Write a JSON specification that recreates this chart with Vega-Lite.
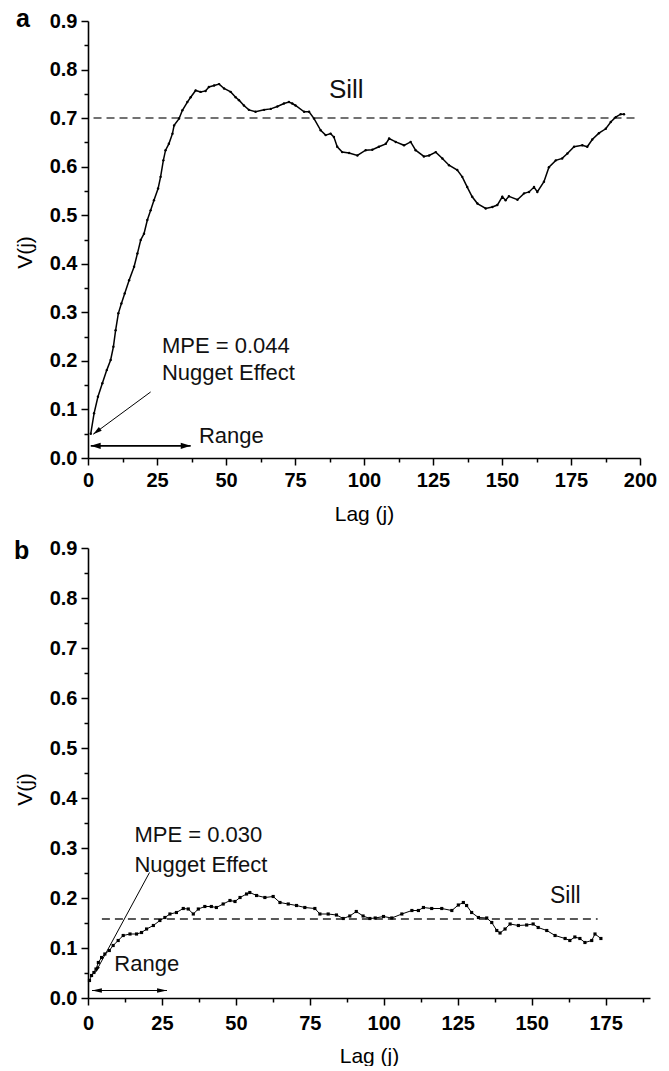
{
  "$schema": "https://vega.github.io/schema/vega-lite/v6.json",
  "padding": {"left": 14, "top": 7, "right": 5, "bottom": 0},
  "spacing": 14,
  "config": {
    "font": "Liberation Sans",
    "view": {"stroke": null},
    "axis": {
      "grid": false,
      "domainColor": "black",
      "domainWidth": 1.6,
      "tickColor": "black",
      "tickWidth": 1.5,
      "labelFont": "Liberation Sans",
      "labelFontWeight": "bold",
      "labelFontSize": 20,
      "labelColor": "black",
      "titleFont": "Liberation Sans",
      "titleFontWeight": "normal",
      "titleFontSize": 21,
      "titleColor": "black",
      "labelOverlap": false,
      "labelFlush": false
    },
    "text": {"font": "Liberation Sans", "color": "#111"}
  },
  "datasets": {
    "curveA": [
      {"lag": 1, "v": 0.050}, {"lag": 2.2, "v": 0.092}, {"lag": 3.6, "v": 0.126}, {"lag": 5.2, "v": 0.154},
      {"lag": 6.8, "v": 0.181}, {"lag": 8.2, "v": 0.202}, {"lag": 9.2, "v": 0.229}, {"lag": 10.0, "v": 0.263},
      {"lag": 11.0, "v": 0.298}, {"lag": 12.1, "v": 0.318}, {"lag": 13.3, "v": 0.339}, {"lag": 14.9, "v": 0.366},
      {"lag": 16.7, "v": 0.394}, {"lag": 17.9, "v": 0.421}, {"lag": 19.1, "v": 0.449}, {"lag": 20.3, "v": 0.462},
      {"lag": 21.5, "v": 0.490}, {"lag": 22.7, "v": 0.510}, {"lag": 23.9, "v": 0.531}, {"lag": 25.4, "v": 0.555},
      {"lag": 26.3, "v": 0.579}, {"lag": 27.3, "v": 0.613}, {"lag": 28.1, "v": 0.634}, {"lag": 29.3, "v": 0.647},
      {"lag": 30.6, "v": 0.668}, {"lag": 31.2, "v": 0.685}, {"lag": 33.0, "v": 0.699}, {"lag": 34.2, "v": 0.716},
      {"lag": 36.0, "v": 0.733}, {"lag": 37.2, "v": 0.743}, {"lag": 39.0, "v": 0.757}, {"lag": 40.8, "v": 0.754},
      {"lag": 42.6, "v": 0.756}, {"lag": 43.8, "v": 0.764}, {"lag": 45.7, "v": 0.767}, {"lag": 47.5, "v": 0.770},
      {"lag": 49.3, "v": 0.761}, {"lag": 51.7, "v": 0.754}, {"lag": 53.5, "v": 0.743}, {"lag": 54.7, "v": 0.737},
      {"lag": 56.5, "v": 0.726}, {"lag": 58.3, "v": 0.717}, {"lag": 60.7, "v": 0.713}, {"lag": 63.8, "v": 0.717},
      {"lag": 66.2, "v": 0.719}, {"lag": 68.6, "v": 0.724}, {"lag": 71.0, "v": 0.730}, {"lag": 72.8, "v": 0.733},
      {"lag": 74.0, "v": 0.730}, {"lag": 75.2, "v": 0.726}, {"lag": 78.3, "v": 0.713}, {"lag": 80.1, "v": 0.713},
      {"lag": 81.9, "v": 0.699}, {"lag": 84.3, "v": 0.675}, {"lag": 86.1, "v": 0.665}, {"lag": 87.9, "v": 0.668},
      {"lag": 89.1, "v": 0.661}, {"lag": 90.3, "v": 0.641}, {"lag": 92.1, "v": 0.630}, {"lag": 94.6, "v": 0.628},
      {"lag": 97.6, "v": 0.623}, {"lag": 100.6, "v": 0.634}, {"lag": 103.0, "v": 0.635}, {"lag": 105.4, "v": 0.641},
      {"lag": 107.9, "v": 0.647}, {"lag": 109.1, "v": 0.658}, {"lag": 111.5, "v": 0.651}, {"lag": 114.5, "v": 0.644},
      {"lag": 116.9, "v": 0.651}, {"lag": 118.7, "v": 0.634}, {"lag": 121.7, "v": 0.621}, {"lag": 123.6, "v": 0.623},
      {"lag": 126.0, "v": 0.630}, {"lag": 128.4, "v": 0.617}, {"lag": 130.8, "v": 0.603}, {"lag": 133.8, "v": 0.593},
      {"lag": 135.6, "v": 0.579}, {"lag": 137.4, "v": 0.558}, {"lag": 139.2, "v": 0.538}, {"lag": 141.1, "v": 0.524},
      {"lag": 144.1, "v": 0.514}, {"lag": 146.5, "v": 0.517}, {"lag": 148.3, "v": 0.521}, {"lag": 150.1, "v": 0.538},
      {"lag": 151.3, "v": 0.531}, {"lag": 152.5, "v": 0.539}, {"lag": 155.6, "v": 0.532}, {"lag": 158.0, "v": 0.545},
      {"lag": 159.8, "v": 0.548}, {"lag": 161.6, "v": 0.558}, {"lag": 162.8, "v": 0.548}, {"lag": 165.2, "v": 0.569},
      {"lag": 167.0, "v": 0.599}, {"lag": 169.5, "v": 0.613}, {"lag": 171.8, "v": 0.617}, {"lag": 173.7, "v": 0.627},
      {"lag": 176.1, "v": 0.641}, {"lag": 179.1, "v": 0.644}, {"lag": 180.9, "v": 0.641}, {"lag": 182.7, "v": 0.656},
      {"lag": 185.1, "v": 0.669}, {"lag": 187.6, "v": 0.678}, {"lag": 189.4, "v": 0.692}, {"lag": 191.2, "v": 0.702},
      {"lag": 193.0, "v": 0.708}, {"lag": 194.2, "v": 0.708}
    ],
    "curveB": [
      {"lag": 0.5, "v": 0.035}, {"lag": 1.2, "v": 0.045}, {"lag": 2.0, "v": 0.051}, {"lag": 2.7, "v": 0.058},
      {"lag": 3.5, "v": 0.071}, {"lag": 4.6, "v": 0.081}, {"lag": 5.7, "v": 0.088}, {"lag": 7.2, "v": 0.095},
      {"lag": 8.5, "v": 0.105}, {"lag": 10.2, "v": 0.115}, {"lag": 11.9, "v": 0.125}, {"lag": 14.2, "v": 0.128},
      {"lag": 16.4, "v": 0.128}, {"lag": 18.1, "v": 0.131}, {"lag": 19.8, "v": 0.138}, {"lag": 22.1, "v": 0.145},
      {"lag": 24.3, "v": 0.155}, {"lag": 26.0, "v": 0.161}, {"lag": 27.7, "v": 0.168}, {"lag": 29.9, "v": 0.171},
      {"lag": 32.2, "v": 0.179}, {"lag": 33.9, "v": 0.178}, {"lag": 35.6, "v": 0.168}, {"lag": 37.3, "v": 0.178},
      {"lag": 39.5, "v": 0.183}, {"lag": 41.7, "v": 0.183}, {"lag": 43.4, "v": 0.181}, {"lag": 45.7, "v": 0.188},
      {"lag": 48.0, "v": 0.195}, {"lag": 49.7, "v": 0.193}, {"lag": 51.4, "v": 0.201}, {"lag": 53.6, "v": 0.208},
      {"lag": 54.7, "v": 0.211}, {"lag": 57.0, "v": 0.205}, {"lag": 59.8, "v": 0.201}, {"lag": 62.6, "v": 0.203},
      {"lag": 64.9, "v": 0.191}, {"lag": 67.7, "v": 0.188}, {"lag": 70.5, "v": 0.185}, {"lag": 73.3, "v": 0.181},
      {"lag": 76.7, "v": 0.179}, {"lag": 78.4, "v": 0.168}, {"lag": 81.2, "v": 0.168}, {"lag": 84.0, "v": 0.166},
      {"lag": 86.3, "v": 0.159}, {"lag": 88.5, "v": 0.164}, {"lag": 90.7, "v": 0.173}, {"lag": 93.0, "v": 0.164},
      {"lag": 95.3, "v": 0.159}, {"lag": 97.1, "v": 0.160}, {"lag": 99.9, "v": 0.163}, {"lag": 102.7, "v": 0.160},
      {"lag": 106.1, "v": 0.168}, {"lag": 109.5, "v": 0.175}, {"lag": 111.7, "v": 0.175}, {"lag": 113.4, "v": 0.181},
      {"lag": 116.2, "v": 0.179}, {"lag": 119.6, "v": 0.179}, {"lag": 123.0, "v": 0.175}, {"lag": 125.2, "v": 0.186},
      {"lag": 126.9, "v": 0.191}, {"lag": 128.0, "v": 0.185}, {"lag": 129.7, "v": 0.171}, {"lag": 132.0, "v": 0.161},
      {"lag": 134.8, "v": 0.160}, {"lag": 136.5, "v": 0.151}, {"lag": 138.2, "v": 0.135}, {"lag": 139.3, "v": 0.130},
      {"lag": 141.0, "v": 0.138}, {"lag": 142.7, "v": 0.148}, {"lag": 145.5, "v": 0.145}, {"lag": 148.3, "v": 0.146},
      {"lag": 150.5, "v": 0.148}, {"lag": 152.2, "v": 0.141}, {"lag": 155.1, "v": 0.135}, {"lag": 157.9, "v": 0.125},
      {"lag": 161.3, "v": 0.119}, {"lag": 162.9, "v": 0.115}, {"lag": 164.6, "v": 0.122}, {"lag": 166.3, "v": 0.119},
      {"lag": 168.0, "v": 0.111}, {"lag": 170.3, "v": 0.115}, {"lag": 171.4, "v": 0.128}, {"lag": 173.4, "v": 0.119}
    ]
  },
  "vconcat": [
    {
      "width": 552,
      "height": 437,
      "encoding": {
        "x": {
          "field": "lag", "type": "quantitative",
          "scale": {"domain": [0, 200], "nice": false, "zero": false},
          "axis": {
            "title": "Lag (j)",
            "values": [0, 12.5, 25, 37.5, 50, 62.5, 75, 87.5, 100, 112.5, 125, 137.5, 150, 162.5, 175, 187.5, 200],
            "labelExpr": "datum.value % 25 === 0 ? datum.label : ''",
            "tickSize": {"condition": {"test": "datum.value % 25 === 0", "value": 7}, "value": 4},
            "labelPadding": 5,
            "titlePadding": 13
          }
        },
        "y": {
          "field": "v", "type": "quantitative",
          "scale": {"domain": [0, 0.9], "nice": false, "zero": false},
          "axis": {
            "title": "V(j)",
            "values": [0, 0.05, 0.1, 0.15, 0.2, 0.25, 0.3, 0.35, 0.4, 0.45, 0.5, 0.55, 0.6, 0.65, 0.7, 0.75, 0.8, 0.85, 0.9],
            "format": ".1f",
            "labelExpr": "round(datum.value * 100) % 10 === 0 ? datum.label : ''",
            "tickSize": {"condition": {"test": "round(datum.value * 100) % 10 === 0", "value": 7}, "value": 4},
            "labelPadding": 4,
            "titlePadding": 14,
            "titleY": 231
          }
        }
      },
      "layer": [
        {
          "data": {"values": [{"lag": 2, "lag2": 199, "v": 0.7}]},
          "mark": {"type": "rule", "strokeDash": [8, 5], "color": "#444", "strokeWidth": 1.5},
          "encoding": {"x2": {"field": "lag2"}}
        },
        {
          "data": {"name": "curveA"},
          "mark": {"type": "line", "color": "black", "strokeWidth": 1.5, "point": {"filled": true, "size": 6, "color": "black"}}
        },
        {
          "data": {"values": [{"lag": 1, "lag2": 37.2, "v": 0.025}]},
          "mark": {"type": "rule", "color": "black", "strokeWidth": 1.8},
          "encoding": {"x2": {"field": "lag2"}}
        },
        {
          "data": {"values": [{"lag": 1, "v": 0.025}]},
          "mark": {"type": "point", "shape": "M0,0L-0.7,2.2L0.7,2.2Z", "filled": true, "size": 81, "angle": 270, "color": "black", "opacity": 1}
        },
        {
          "data": {"values": [{"lag": 37.2, "v": 0.025}]},
          "mark": {"type": "point", "shape": "M0,0L-0.7,2.2L0.7,2.2Z", "filled": true, "size": 81, "angle": 90, "color": "black", "opacity": 1}
        },
        {
          "data": {"values": [{"lag": 22.7, "v": 0.136, "lag2": 1.9, "v2": 0.049}]},
          "mark": {"type": "rule", "color": "black", "strokeWidth": 1},
          "encoding": {"x2": {"field": "lag2"}, "y2": {"field": "v2"}}
        },
        {
          "data": {"values": [{"lag": 1.9, "v": 0.049}]},
          "mark": {"type": "point", "shape": "M0,0L-0.6,2.2L0.6,2.2Z", "filled": true, "size": 64, "angle": 233, "color": "black", "opacity": 1}
        },
        {
          "data": {"values": [
            {"lag": 26.8, "v": 0.216, "label": "MPE = 0.044"},
            {"lag": 26.8, "v": 0.160, "label": "Nugget Effect"},
            {"lag": 40.2, "v": 0.031, "label": "Range"}
          ]},
          "mark": {"type": "text", "fontSize": 22, "align": "left", "baseline": "alphabetic"},
          "encoding": {"text": {"field": "label"}}
        },
        {
          "data": {"values": [{"lag": 87.3, "v": 0.741, "label": "Sill"}]},
          "mark": {"type": "text", "fontSize": 26, "align": "left", "baseline": "alphabetic"},
          "encoding": {"text": {"field": "label"}}
        },
        {
          "data": {"values": [{"lag": -26.1, "v": 0.887, "label": "a"}]},
          "mark": {"type": "text", "fontSize": 25, "fontWeight": "bold", "color": "black", "align": "left", "baseline": "alphabetic"},
          "encoding": {"text": {"field": "label"}}
        }
      ]
    },
    {
      "width": 562,
      "height": 450,
      "encoding": {
        "x": {
          "field": "lag", "type": "quantitative",
          "scale": {"domain": [0, 190], "nice": false, "zero": false},
          "axis": {
            "title": "Lag (j)",
            "values": [0, 12.5, 25, 37.5, 50, 62.5, 75, 87.5, 100, 112.5, 125, 137.5, 150, 162.5, 175, 187.5],
            "labelExpr": "datum.value % 25 === 0 ? datum.label : ''",
            "tickSize": {"condition": {"test": "datum.value % 25 === 0", "value": 7}, "value": 4},
            "labelPadding": 8,
            "titlePadding": 12
          }
        },
        "y": {
          "field": "v", "type": "quantitative",
          "scale": {"domain": [0, 0.9], "nice": false, "zero": false},
          "axis": {
            "title": "V(j)",
            "values": [0, 0.05, 0.1, 0.15, 0.2, 0.25, 0.3, 0.35, 0.4, 0.45, 0.5, 0.55, 0.6, 0.65, 0.7, 0.75, 0.8, 0.85, 0.9],
            "format": ".1f",
            "labelExpr": "round(datum.value * 100) % 10 === 0 ? datum.label : ''",
            "tickSize": {"condition": {"test": "round(datum.value * 100) % 10 === 0", "value": 7}, "value": 4},
            "labelPadding": 4,
            "titlePadding": 14,
            "titleY": 241
          }
        }
      },
      "layer": [
        {
          "data": {"values": [{"lag": 4.7, "lag2": 172.3, "v": 0.158}]},
          "mark": {"type": "rule", "strokeDash": [8, 5], "color": "#222", "strokeWidth": 1.5},
          "encoding": {"x2": {"field": "lag2"}}
        },
        {
          "data": {"name": "curveB"},
          "mark": {"type": "line", "color": "black", "strokeWidth": 1, "point": {"filled": true, "size": 10, "shape": "square", "color": "black"}}
        },
        {
          "data": {"values": [{"lag": 1.35, "lag2": 26.7, "v": 0.015}]},
          "mark": {"type": "rule", "color": "black", "strokeWidth": 1},
          "encoding": {"x2": {"field": "lag2"}}
        },
        {
          "data": {"values": [{"lag": 1.35, "v": 0.015}]},
          "mark": {"type": "point", "shape": "M0,0L-0.5,2.2L0.5,2.2Z", "filled": true, "size": 81, "angle": 270, "color": "black", "opacity": 1}
        },
        {
          "data": {"values": [{"lag": 26.7, "v": 0.015}]},
          "mark": {"type": "point", "shape": "M0,0L-0.5,2.2L0.5,2.2Z", "filled": true, "size": 81, "angle": 90, "color": "black", "opacity": 1}
        },
        {
          "data": {"values": [{"lag": 20.8, "v": 0.251, "lag2": 2.5, "v2": 0.051}]},
          "mark": {"type": "rule", "color": "black", "strokeWidth": 1},
          "encoding": {"x2": {"field": "lag2"}, "y2": {"field": "v2"}}
        },
        {
          "data": {"values": [{"lag": 2.5, "v": 0.051}]},
          "mark": {"type": "point", "shape": "M0,0L-0.5,2.2L0.5,2.2Z", "filled": true, "size": 36, "angle": 208.5, "color": "black", "opacity": 1}
        },
        {
          "data": {"values": [
            {"lag": 15.7, "v": 0.312, "label": "MPE = 0.030"},
            {"lag": 15.7, "v": 0.252, "label": "Nugget Effect"},
            {"lag": 8.9, "v": 0.055, "label": "Range"}
          ]},
          "mark": {"type": "text", "fontSize": 22, "align": "left", "baseline": "alphabetic"},
          "encoding": {"text": {"field": "label"}}
        },
        {
          "data": {"values": [{"lag": 156.2, "v": 0.191, "label": "Sill"}]},
          "mark": {"type": "text", "fontSize": 23, "align": "left", "baseline": "alphabetic"},
          "encoding": {"text": {"field": "label"}}
        },
        {
          "data": {"values": [{"lag": -25, "v": 0.878, "label": "b"}]},
          "mark": {"type": "text", "fontSize": 25, "fontWeight": "bold", "color": "black", "align": "left", "baseline": "alphabetic"},
          "encoding": {"text": {"field": "label"}}
        }
      ]
    }
  ]
}
